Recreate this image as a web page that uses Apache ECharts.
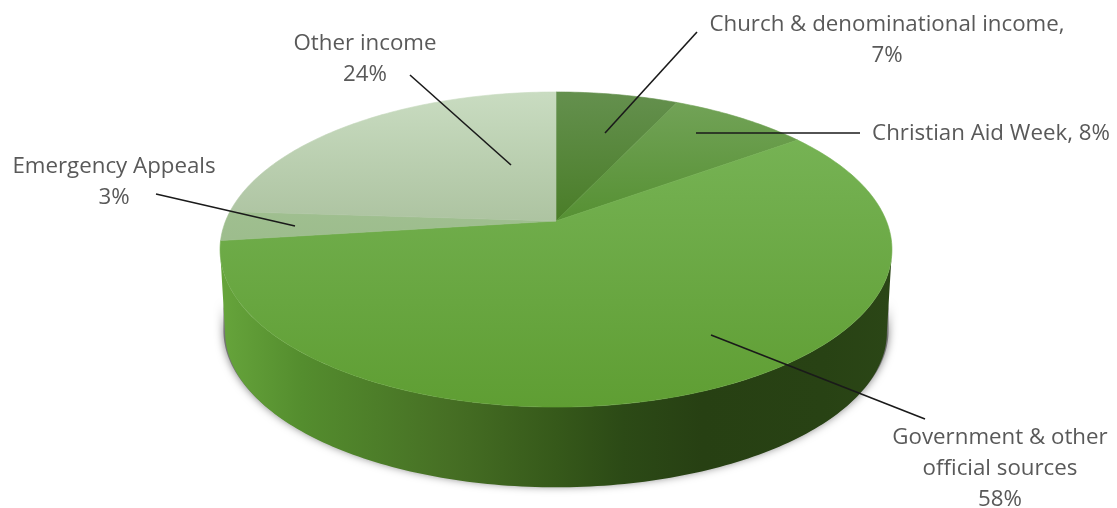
<!DOCTYPE html>
<html>
<head>
<meta charset="utf-8">
<title>Income by source</title>
<style>html,body{margin:0;padding:0;background:#fff}#chart{width:1117px;height:508px}</style>
<script src="https://cdn.jsdelivr.net/npm/echarts@6/dist/echarts.min.js"></script>
</head>
<body>
<div id="chart"></div>
<script>
// Income shares, clockwise from twelve o'clock
const categories = ['Church & denominational income', 'Christian Aid Week', 'Government & other official sources', 'Emergency Appeals', 'Other income'];
const shares = [7, 8, 58, 3, 24];
const labelLines = [
  ['Church & denominational income,', '7%'],
  ['Christian Aid Week, 8%'],
  ['Government & other', 'official sources', '58%'],
  ['Emergency Appeals', '3%'],
  ['Other income', '24%']
];

// Slice fills: vertical gradient stops over the height of the disc
const sliceStops = [
  ['#64904e', '#44791f'],
  ['#74a45a', '#4f8c2a'],
  ['#7ab65a', '#5f9e33'],
  ['#a9c79a', '#9cbc8c'],
  ['#c9dcc1', '#a7be9a']
];
const wallStops = [
  [0, '#66a43b'], [0.12, '#548d2e'], [0.34, '#466f24'], [0.5, '#36591a'],
  [0.6, '#2c4a16'], [0.72, '#274013'], [0.9, '#284214'], [1, '#2b4616']
];

// Tilted-disc projection: far edge is foreshortened, so the apex sits above the ellipse centre
const apex = { x: 556, y: 221 };
const scaleX = 330.4, scaleY = 152.4, foreshorten = 0.181;
const wallDrop = 83, wallShrink = 0.985;

function project(deg, r, shrink, drop) {
  const a = deg * Math.PI / 180;
  const u = Math.sin(a) * r, v = Math.cos(a) * r;
  const d = 1 + foreshorten * v;
  return [apex.x + shrink * scaleX * u / d, apex.y - shrink * scaleY * v / d + drop];
}
const total = shares.reduce((s, v) => s + v, 0);
function sliceRange(i, value) {
  const before = shares.slice(0, i).reduce((s, v) => s + v, 0);
  return [before / total * 360, (before + value) / total * 360];
}
function arc(from, to, shrink, drop) {
  const pts = [], n = Math.max(2, Math.ceil(to - from));
  for (let j = 0; j <= n; j++) pts.push(project(from + (to - from) * j / n, 1, shrink, drop));
  return pts;
}

// Where each caption and leader line sits
const captionCentres = [[887, 25], [991, 134], [1000, 438], [114, 167], [365, 44]];
const captionLineHeight = 31;
const leaders = [
  [[697, 32], [605, 133]],
  [[860, 133], [696, 133]],
  [[925, 419], [711, 335]],
  [[156, 194], [295, 226]],
  [[410, 75], [511, 165]]
];

const tangent = Math.asin(foreshorten) * 180 / Math.PI;
const frontFrom = 90 + tangent, frontTo = 270 - tangent;

const chart = echarts.init(document.getElementById('chart'), null, { renderer: 'canvas' });
const seriesData = shares.map((v, i) => [i, v]);
chart.setOption({
  animation: false,
  backgroundColor: '#fff',
  series: [
    {
      // Soft shadow hugging the lower edge of the disc, then its outer wall
      type: 'custom', coordinateSystem: 'none', silent: true, z: 1,
      data: seriesData,
      renderItem(params, api) {
        const i = api.value(0);
        const [a, b] = sliceRange(i, api.value(1));
        const from = Math.max(a, frontFrom), to = Math.min(b, frontTo);
        if (to <= from) return { type: 'group', children: [] };
        const pts = arc(from, to, 1, 0).concat(arc(from, to, wallShrink, wallDrop).reverse());
        const shadowPts = arc(from, to, 0.99, 50).concat(arc(from, to, 0.99, 81).reverse());
        return {
          type: 'group',
          children: [
            {
              type: 'polygon',
              shape: { points: shadowPts },
              style: { fill: 'rgba(70,70,70,0.6)', shadowColor: 'rgba(0,0,0,0.85)', shadowBlur: 9 }
            },
            {
              type: 'polygon',
              shape: { points: pts },
              style: {
                fill: new echarts.graphic.LinearGradient(222, 0, 890, 0, wallStops.map(s => ({ offset: s[0], color: s[1] })), true)
              }
            }
          ]
        };
      }
    },
    {
      // Top face of each slice
      type: 'custom', coordinateSystem: 'none', silent: true, z: 2,
      data: seriesData,
      renderItem(params, api) {
        const i = api.value(0);
        const [a, b] = sliceRange(i, api.value(1));
        const fill = new echarts.graphic.LinearGradient(0, 92, 0, i === 2 ? 407 : 250, [
          { offset: 0, color: sliceStops[i][0] }, { offset: 1, color: sliceStops[i][1] }
        ], true);
        return {
          type: 'polygon',
          shape: { points: [[apex.x, apex.y]].concat(arc(a, b, 1, 0)) },
          style: { fill, stroke: fill, lineWidth: 0.6 }
        };
      }
    },
    {
      // Captions and leader lines
      type: 'custom', coordinateSystem: 'none', silent: true, z: 3,
      data: seriesData,
      renderItem(params, api) {
        const i = api.value(0);
        const children = [{
          type: 'polyline',
          shape: { points: leaders[i] },
          style: { stroke: '#1a1a1a', lineWidth: 1.6, fill: null }
        }];
        labelLines[i].forEach((line, n) => {
          children.push({
            type: 'text',
            style: {
              text: line,
              x: captionCentres[i][0], y: captionCentres[i][1] + n * captionLineHeight,
              align: 'center', verticalAlign: 'middle',
              font: '22.3px "Open Sans", sans-serif', fill: '#595959'
            }
          });
        });
        return { type: 'group', children };
      }
    }
  ]
});
</script>
</body>
</html>
